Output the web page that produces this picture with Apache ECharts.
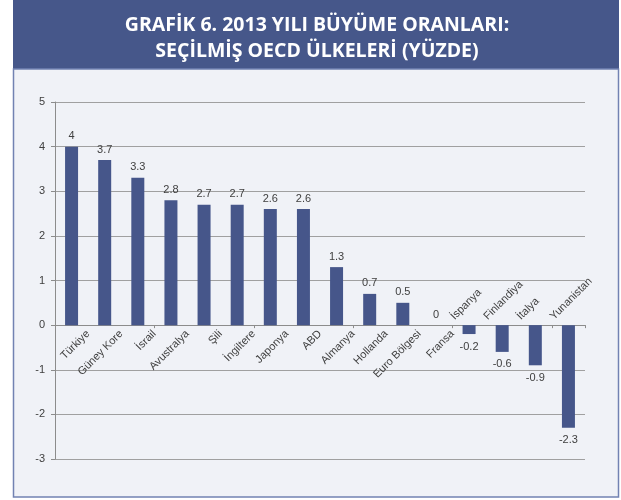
<!DOCTYPE html>
<html><head><meta charset="utf-8">
<style>html,body{margin:0;padding:0;background:#fff;}#c{width:621px;height:500px;}</style>
<script src="https://cdn.jsdelivr.net/npm/echarts@6/dist/echarts.min.js"></script>
</head><body><div id="c"></div>
<script>
const categories = ['Türkiye','Güney Kore','İsrail','Avustralya','Şili','İngiltere','Japonya','ABD','Almanya','Hollanda','Euro Bölgesi','Fransa','İspanya','Finlandiya','İtalya','Yunanistan'];
const values = [4, 3.7, 3.3, 2.8, 2.7, 2.7, 2.6, 2.6, 1.3, 0.7, 0.5, 0, -0.2, -0.6, -0.9, -2.3];
const yTicks = [-3, -2, -1, 0, 1, 2, 3, 4, 5];
const titleLines = ['GRAFİK 6. 2013 YILI BÜYÜME ORANLARI:', 'SEÇİLMİŞ OECD ÜLKELERİ (YÜZDE)'];

// label axes: category names placed on category boundaries (as in the original, Excel-style)
const bottomLabelData = [''].concat(categories.map((c, i) => values[i] < 0 ? '' : c));
const topLabelData = categories.map((c, i) => values[i] < 0 ? c : '').concat(['']);

const GRID = {left:55, right:36, top:102, bottom:41};
const chart = echarts.init(document.getElementById('c'), null, {renderer:'canvas'});
const labelFont = {color:'#404040', fontSize:11, fontFamily:'Liberation Sans, Arial, sans-serif'};
function buildOption(offBottom){
  return {
  animation:false,
  backgroundColor:'#ffffff',
  graphic:[
    {type:'rect', shape:{x:13,y:0,width:606,height:69}, style:{fill:'#46578a'}, z:-10},
    {type:'rect', shape:{x:13.5,y:69,width:605,height:428}, style:{fill:'#f0f2f7', stroke:'#7282b2', lineWidth:1.5}, z:-10},
    {type:'text', x:317, y:12, style:{text:titleLines.join('\n'), fill:'#ffffff', font:'bold 19.5px "Open Sans", sans-serif', textAlign:'center', lineHeight:26}, z:10}
  ],
  grid:Object.assign({outerBoundsMode:'none', containLabel:false}, GRID),
  xAxis:[{
    type:'category', data:categories, position:'bottom', offset:offBottom,
    axisLine:{onZero:false, lineStyle:{color:'#8c8c8c'}},
    axisTick:{show:true, length:3, lineStyle:{color:'#8c8c8c'}},
    axisLabel:{show:false},
    splitLine:{show:false}
  },{
    type:'category', data:bottomLabelData, boundaryGap:false, position:'bottom', offset:offBottom,
    axisLine:{onZero:false, show:false},
    axisTick:{show:false},
    axisLabel:Object.assign({rotate:45, margin:7, interval:0, showMinLabel:true, showMaxLabel:true}, labelFont),
    splitLine:{show:false}
  },{
    type:'category', data:topLabelData, boundaryGap:false, position:'bottom', offset:offBottom,
    axisLine:{onZero:false, show:false},
    axisTick:{show:false},
    axisLabel:Object.assign({inside:true, rotate:45, align:'left', verticalAlign:'middle', margin:7, interval:0, showMinLabel:true, showMaxLabel:true}, labelFont),
    splitLine:{show:false}
  }],
  yAxis:{
    type:'value', min:-3, max:5, interval:1,
    axisLine:{show:true, lineStyle:{color:'#8c8c8c'}},
    axisTick:{show:true, length:4, lineStyle:{color:'#8c8c8c'}},
    axisLabel:Object.assign({margin:10, formatter:v=> yTicks.includes(v) ? String(v) : ''}, labelFont),
    splitLine:{lineStyle:{color:'#a0a0a0', width:1}}
  },
  series:[{
    type:'bar', xAxisIndex:0, data:values.map(v=> v<0 ? {value:v, label:{position:'bottom', distance:7}} : v),
    barWidth:13, itemStyle:{color:'#46568a'},
    label:{show:true, position:'top', distance:5, color:'#404040', fontSize:11, fontFamily:'Liberation Sans, Arial, sans-serif',
      formatter:p=> String(p.value)}
  }]
  };
}
chart.setOption(buildOption(0));
const zeroPx = chart.convertToPixel({yAxisIndex:0}, 0);
const H = 500;
const bottomPx = H - GRID.bottom;
chart.setOption(buildOption(-(bottomPx - zeroPx)), true);
</script></body></html>
